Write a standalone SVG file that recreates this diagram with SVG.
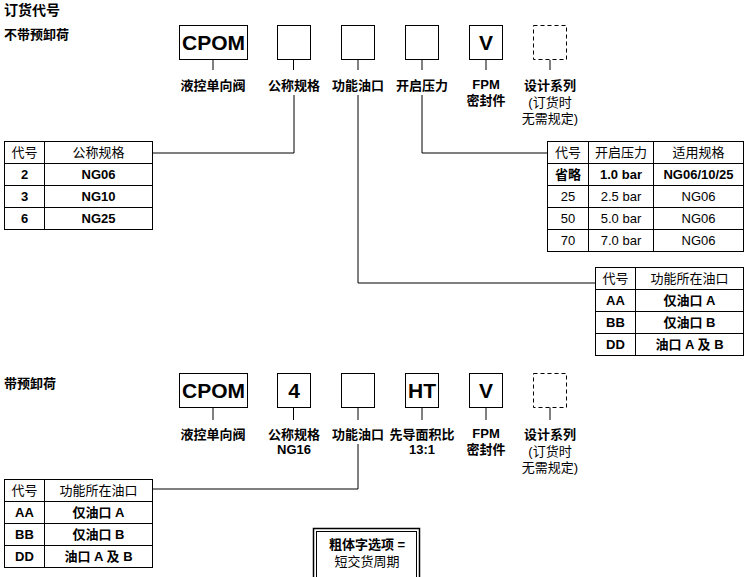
<svg xmlns="http://www.w3.org/2000/svg" width="746" height="577" viewBox="0 0 746 577">
<style>
text{font-family:"Liberation Sans","Noto Sans CJK SC",sans-serif;fill:#000}
.t{font-weight:bold;font-size:14px}
.h{font-weight:bold;font-size:13px}
.big{font-weight:bold;font-size:21px;text-anchor:middle}
.lb{font-weight:bold;font-size:13px;text-anchor:middle}
.ln{font-weight:normal;font-size:13px;text-anchor:middle}
.th{font-weight:normal;font-size:13px;text-anchor:middle;font-family:"Noto Sans CJK SC","Liberation Serif",serif}
.tb{font-weight:bold;font-size:13px;text-anchor:middle}
.tn{font-weight:normal;font-size:13px;text-anchor:middle}
.box{fill:#fff;stroke:#000;stroke-width:1}
.dash{fill:#fff;stroke:#000;stroke-width:1;stroke-dasharray:4,3}
.tbl{fill:#fff;stroke:#000;stroke-width:1}
.grid{stroke:#000;stroke-width:1;fill:none}
.c{stroke:#000;stroke-width:1;fill:none}
</style>
<rect width="746" height="577" fill="#fff"/>
<text class="t" x="4" y="15">订货代号</text>
<text class="h" x="4" y="39">不带预卸荷</text>
<text class="h" x="4" y="388">带预卸荷</text>

<g id="connectors">
<path class="c" d="M213,60V70 M293.5,60V70 M358,60V70 M422,60V70 M486,60V70 M550,60V70"/>
<path class="c" d="M294,95V153H152 M358,95V283H595 M422,95V153H547"/>
<path class="c" d="M213,407V420 M293.5,407V420 M358,407V420 M422,407V420 M486,407V420 M550,407V420"/>
<path class="c" d="M358,444V489H152"/>
</g>

<g id="n-cpom1"><rect class="box" x="179.5" y="25.5" width="68" height="34"/><text class="big" x="213.5" y="50">CPOM</text></g>
<g id="n-size1"><rect class="box" x="277.5" y="25.5" width="33" height="34"/></g>
<g id="n-port1"><rect class="box" x="341.5" y="25.5" width="33" height="34"/></g>
<g id="n-press1"><rect class="box" x="405.5" y="25.5" width="33" height="34"/></g>
<g id="n-v1"><rect class="box" x="469.5" y="25.5" width="33" height="34"/><text class="big" x="486" y="50">V</text></g>
<g id="n-ser1"><rect class="dash" x="533.5" y="25.5" width="33" height="34"/></g>

<g id="labels1">
<text class="lb" x="213" y="90">液控单向阀</text>
<text class="lb" x="294" y="90">公称规格</text>
<text class="lb" x="358" y="90">功能油口</text>
<text class="lb" x="422" y="90">开启压力</text>
<text class="lb" x="486" y="89">FPM</text>
<text class="lb" x="486" y="105">密封件</text>
<text class="lb" x="550" y="90">设计系列</text>
<text class="ln" x="550" y="107">(订货时</text>
<text class="ln" x="550" y="123">无需规定)</text>
</g>

<g id="tbl-size">
<rect class="tbl" x="4.5" y="141.5" width="148" height="88"/>
<path class="grid" d="M44.5,141.5V229.5 M4.5,163.5H152.5 M4.5,185.5H152.5 M4.5,207.5H152.5"/>
<text class="th" x="24.5" y="157">代号</text><text class="th" x="98.5" y="157">公称规格</text>
<text class="tb" x="24.5" y="179">2</text><text class="tb" x="98.5" y="179">NG06</text>
<text class="tb" x="24.5" y="201">3</text><text class="tb" x="98.5" y="201">NG10</text>
<text class="tb" x="24.5" y="223">6</text><text class="tb" x="98.5" y="223">NG25</text>
</g>

<g id="tbl-press">
<rect class="tbl" x="547.5" y="141.5" width="196" height="110"/>
<path class="grid" d="M588.5,141.5V251.5 M653.5,141.5V251.5 M547.5,163.5H743.5 M547.5,185.5H743.5 M547.5,207.5H743.5 M547.5,229.5H743.5"/>
<text class="th" x="568" y="157">代号</text><text class="th" x="621" y="157">开启压力</text><text class="th" x="698.5" y="157">适用规格</text>
<text class="tb" x="568" y="179">省略</text><text class="tb" x="621" y="179">1.0 bar</text><text class="tb" x="698.5" y="179">NG06/10/25</text>
<text class="tn" x="568" y="201">25</text><text class="tn" x="621" y="201">2.5 bar</text><text class="tn" x="698.5" y="201">NG06</text>
<text class="tn" x="568" y="223">50</text><text class="tn" x="621" y="223">5.0 bar</text><text class="tn" x="698.5" y="223">NG06</text>
<text class="tn" x="568" y="245">70</text><text class="tn" x="621" y="245">7.0 bar</text><text class="tn" x="698.5" y="245">NG06</text>
</g>

<g id="tbl-port1">
<rect class="tbl" x="595.5" y="267.5" width="148" height="88"/>
<path class="grid" d="M635.5,267.5V355.5 M595.5,289.5H743.5 M595.5,311.5H743.5 M595.5,333.5H743.5"/>
<text class="th" x="615.5" y="283">代号</text><text class="th" x="689.5" y="283">功能所在油口</text>
<text class="tb" x="615.5" y="305">AA</text><text class="tb" x="689.5" y="305">仅油口 A</text>
<text class="tb" x="615.5" y="327">BB</text><text class="tb" x="689.5" y="327">仅油口 B</text>
<text class="tb" x="615.5" y="349">DD</text><text class="tb" x="689.5" y="349">油口 A 及 B</text>
</g>

<g id="n-cpom2"><rect class="box" x="179.5" y="373.5" width="68" height="34"/><text class="big" x="213.5" y="398">CPOM</text></g>
<g id="n-size2"><rect class="box" x="277.5" y="373.5" width="33" height="34"/><text class="big" x="294" y="398">4</text></g>
<g id="n-port2"><rect class="box" x="341.5" y="373.5" width="33" height="34"/></g>
<g id="n-ht2"><rect class="box" x="405.5" y="373.5" width="33" height="34"/><text class="big" x="422" y="398">HT</text></g>
<g id="n-v2"><rect class="box" x="469.5" y="373.5" width="33" height="34"/><text class="big" x="486" y="398">V</text></g>
<g id="n-ser2"><rect class="dash" x="533.5" y="373.5" width="33" height="34"/></g>

<g id="labels2">
<text class="lb" x="213" y="439">液控单向阀</text>
<text class="lb" x="294" y="439">公称规格</text>
<text class="lb" x="294" y="454">NG16</text>
<text class="lb" x="358" y="439">功能油口</text>
<text class="lb" x="422" y="439">先导面积比</text>
<text class="lb" x="422" y="454">13:1</text>
<text class="lb" x="486" y="438">FPM</text>
<text class="lb" x="486" y="454">密封件</text>
<text class="lb" x="550" y="439">设计系列</text>
<text class="ln" x="550" y="456">(订货时</text>
<text class="ln" x="550" y="472">无需规定)</text>
</g>

<g id="tbl-port2">
<rect class="tbl" x="4.5" y="479.5" width="148" height="88"/>
<path class="grid" d="M44.5,479.5V567.5 M4.5,501.5H152.5 M4.5,523.5H152.5 M4.5,545.5H152.5"/>
<text class="th" x="24.5" y="495">代号</text><text class="th" x="98.5" y="495">功能所在油口</text>
<text class="tb" x="24.5" y="517">AA</text><text class="tb" x="98.5" y="517">仅油口 A</text>
<text class="tb" x="24.5" y="539">BB</text><text class="tb" x="98.5" y="539">仅油口 B</text>
<text class="tb" x="24.5" y="561">DD</text><text class="tb" x="98.5" y="561">油口 A 及 B</text>
</g>

<g id="legend">
<rect x="313.5" y="528.5" width="106" height="60" fill="#fff" stroke="#000" stroke-width="1.5"/>
<rect x="316.5" y="531.5" width="100" height="60" fill="none" stroke="#000" stroke-width="1"/>
<text class="lb" x="367" y="549">粗体字选项 =</text>
<text class="ln" x="367" y="566">短交货周期</text>
</g>
</svg>
